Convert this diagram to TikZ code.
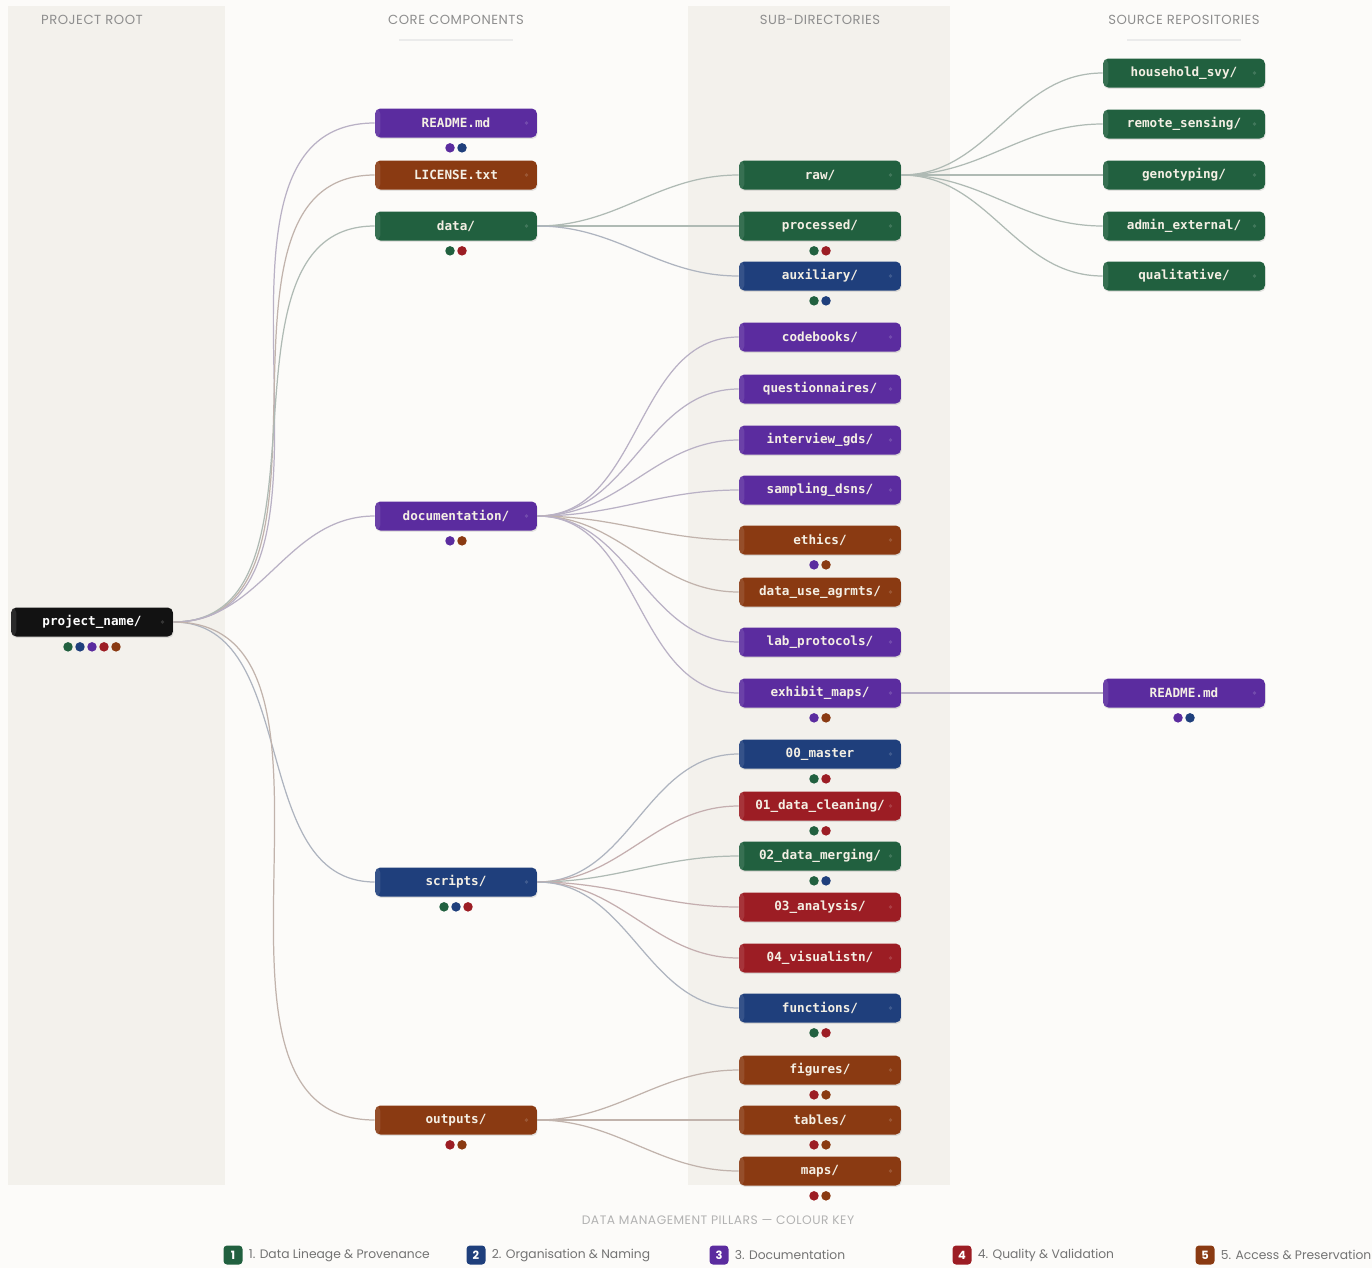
\documentclass[tikz,border=0pt]{standalone}
\usepackage{fontspec}
\setmainfont{Poppins}
\setmonofont{DejaVu Sans Mono}
\newfontfamily\headfont[LetterSpace=4]{Poppins}
\usetikzlibrary{shadows}
\definecolor{pgreen}{HTML}{21603F}
\definecolor{pblue}{HTML}{1F3F7C}
\definecolor{ppurple}{HTML}{5B2C9F}
\definecolor{pred}{HTML}{9C1D24}
\definecolor{pbrown}{HTML}{8A3A12}
\definecolor{proot}{HTML}{121212}
\definecolor{pagebg}{HTML}{FCFBF9}
\definecolor{band}{HTML}{F3F1EC}
\definecolor{headgray}{HTML}{8E8E8E}
\definecolor{boxtext}{HTML}{F4EFE4}
\tikzset{
  dirbox/.style={fill=#1, rounded corners=3pt, minimum width=3.24cm, minimum height=0.58cm,
    text=boxtext, font=\ttfamily\bfseries\fontsize{7.2}{9}\selectfont,
    drop shadow={opacity=0.2,shadow xshift=0.4pt,shadow yshift=-0.8pt},
    path picture={
      \fill[white,opacity=0.1] (path picture bounding box.south west) rectangle ([xshift=3pt]path picture bounding box.north west);
      \fill[white,opacity=0.15] ([xshift=-6pt]path picture bounding box.east) circle (1.1pt);}},
  link/.style={draw=#1!35!gray!50, line width=0.7pt},
  colhead/.style={text=headgray, font=\headfont\fontsize{7.5}{9}\selectfont},
  headrule/.style={draw=black!8, line width=1.5pt},
  keybox/.style={fill=#1, rounded corners=2pt, minimum size=0.38cm, inner sep=0pt,
    text=white, font=\bfseries\fontsize{6.5}{8}\selectfont},
  keytext/.style={text=black!55, anchor=west, inner sep=2pt, font=\fontsize{7}{9}\selectfont}
}
\begin{document}
\begin{tikzpicture}[x=0.02cm,y=-0.02cm]
    \useasboundingbox (0,0) rectangle (1372,1268);
    \fill[pagebg] (0,0) rectangle (1372,1268);
    \fill[band] (8,6) rectangle (225,1185);
    \fill[band] (688,6) rectangle (950,1185);

    \node[colhead] (hroot) at (92,20) {PROJECT ROOT};
    \node[colhead] (hcore) at (456,20) {CORE COMPONENTS};
    \node[colhead] (hsub) at (820,20) {SUB-DIRECTORIES};
    \node[colhead] (hsrc) at (1184,20) {SOURCE REPOSITORIES};
    \foreach \x in {456,1184} \draw[headrule] (\x-57,40) -- (\x+57,40);

    \node[dirbox=proot, text=white] (root) at (92,622) {project\_name/};

    \foreach \n/\y/\c/\t in {readme/123/ppurple/{README.md}, license/175/pbrown/{LICENSE.txt},
        data/226/pgreen/{data/}, docs/516/ppurple/{documentation/}, scripts/882/pblue/{scripts/},
        outputs/1120/pbrown/{outputs/}}
        \node[dirbox=\c] (\n) at (456,\y) {\t};

    \foreach \n/\y/\c/\t in {raw/175/pgreen/{raw/}, processed/226/pgreen/{processed/},
        auxiliary/276/pblue/{auxiliary/}, codebooks/337/ppurple/{codebooks/},
        questionnaires/389/ppurple/{questionnaires/}, interview/440/ppurple/{interview\_gds/},
        sampling/490/ppurple/{sampling\_dsns/}, ethics/540/pbrown/{ethics/},
        dua/592/pbrown/{data\_use\_agrmts/}, labprot/642/ppurple/{lab\_protocols/},
        exhibit/693/ppurple/{exhibit\_maps/}, master/754/pblue/{00\_master},
        cleaning/806/pred/{01\_data\_cleaning/}, merging/856/pgreen/{02\_data\_merging/},
        analysis/907/pred/{03\_analysis/}, visual/958/pred/{04\_visualistn/},
        functions/1008/pblue/{functions/}, figures/1070/pbrown/{figures/},
        tables/1120/pbrown/{tables/}, maps/1171/pbrown/{maps/}}
        \node[dirbox=\c] (\n) at (820,\y) {\t};

    \foreach \n/\y/\c/\t in {household/73/pgreen/{household\_svy/}, remote/124/pgreen/{remote\_sensing/},
        genotyping/175/pgreen/{genotyping/}, admin/226/pgreen/{admin\_external/},
        qualitative/276/pgreen/{qualitative/}, exreadme/693/ppurple/{README.md}}
        \node[dirbox=\c] (\n) at (1184,\y) {\t};

    \foreach \a/\b/\c in {root/readme/ppurple, root/license/pbrown, root/data/pgreen,
        root/docs/ppurple, root/scripts/pblue, root/outputs/pbrown,
        data/raw/pgreen, data/processed/pgreen, data/auxiliary/pblue,
        docs/codebooks/ppurple, docs/questionnaires/ppurple, docs/interview/ppurple,
        docs/sampling/ppurple, docs/ethics/pbrown, docs/dua/pbrown, docs/labprot/ppurple,
        docs/exhibit/ppurple, scripts/master/pblue, scripts/cleaning/pred,
        scripts/merging/pgreen, scripts/analysis/pred, scripts/visual/pred,
        scripts/functions/pblue, outputs/figures/pbrown, outputs/tables/pbrown,
        outputs/maps/pbrown, raw/household/pgreen, raw/remote/pgreen,
        raw/genotyping/pgreen, raw/admin/pgreen, raw/qualitative/pgreen,
        exhibit/exreadme/ppurple}
        \draw[link=\c] (\a.east) to[out=0,in=180] (\b.west);

    \foreach \n/\k/\cols in {root/5/{pgreen,pblue,ppurple,pred,pbrown}, readme/2/{ppurple,pblue},
        data/2/{pgreen,pred}, docs/2/{ppurple,pbrown}, scripts/3/{pgreen,pblue,pred},
        outputs/2/{pred,pbrown}, processed/2/{pgreen,pred}, auxiliary/2/{pgreen,pblue},
        ethics/2/{ppurple,pbrown}, exhibit/2/{ppurple,pbrown}, master/2/{pgreen,pred},
        cleaning/2/{pgreen,pred}, merging/2/{pgreen,pblue}, functions/2/{pgreen,pred},
        figures/2/{pred,pbrown}, tables/2/{pred,pbrown}, maps/2/{pred,pbrown},
        exreadme/2/{ppurple,pblue}}
        \foreach \cl [count=\i] in \cols
            \fill[\cl] (\n.south) ++({(\i-(\k+1)/2)*12},10) circle (2.7pt);

    \node[text=black!30, font=\headfont\fontsize{7}{9}\selectfont] (keytitle) at (718,1220)
        {DATA MANAGEMENT PILLARS — COLOUR KEY};
    \foreach \i/\x/\c/\t in {1/233/pgreen/Data Lineage \& Provenance,
        2/476/pblue/Organisation \& Naming, 3/719/ppurple/Documentation,
        4/962/pred/Quality \& Validation, 5/1205/pbrown/Access \& Preservation} {
        \node[keybox=\c] (key\i) at (\x,1255) {\i};
        \node[keytext] (keylbl\i) at (\x+12,1255) {\i. \t};
    }
\end{tikzpicture}
\end{document}
